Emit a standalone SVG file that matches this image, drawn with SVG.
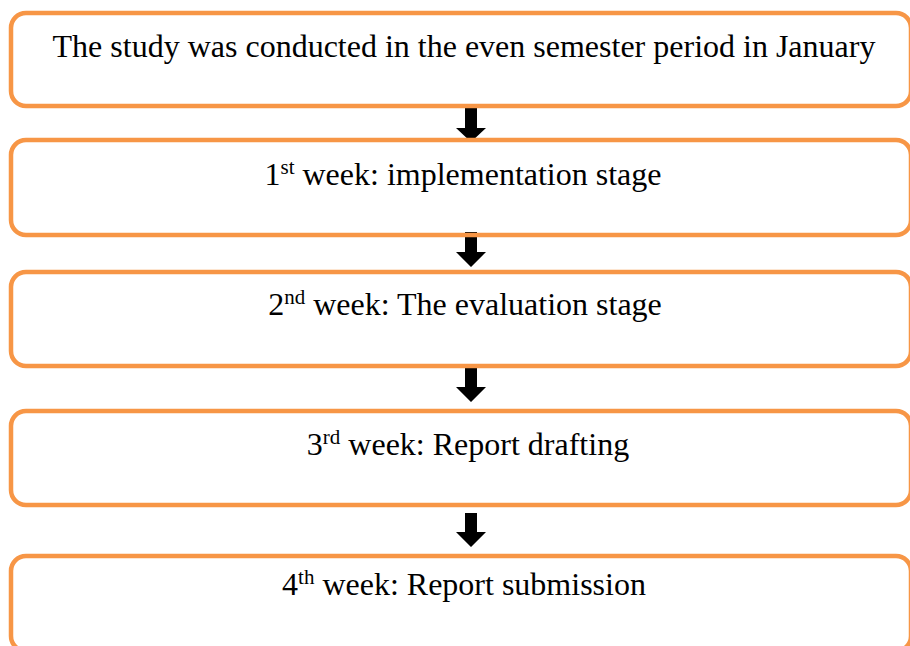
<svg xmlns="http://www.w3.org/2000/svg" width="910" height="646" viewBox="0 0 910 646">
<style>
.box{fill:none;stroke:#F79646;stroke-width:4.5}
.lbl{font-family:"Liberation Serif","Times New Roman",serif;font-size:32px;fill:#000;text-anchor:middle}
.sup{font-size:21px}
.arr{fill:#000}
</style>
<rect width="910" height="646" fill="#fff"/>
<g id="connectors">
<polygon class="arr" points="465,106 477,106 477,128 486,128 471,142 456,128 465,128"/>
<polygon class="arr" points="465,232 477,232 477,252 486,252 471,267 456,252 465,252"/>
<polygon class="arr" points="465,368 477,368 477,387 486,387 471,402 456,387 465,387"/>
<polygon class="arr" points="465,513 477,513 477,532 486,532 471,547 456,532 465,532"/>
</g>
<g id="node1">
<rect class="box" x="11" y="13" width="900" height="93" rx="15"/>
<text class="lbl" x="464" y="57">The study was conducted in the even semester period in January</text>
</g>
<g id="node2">
<rect class="box" x="11" y="140" width="900" height="95" rx="15"/>
<text class="lbl" x="463" y="185">1<tspan class="sup" dy="-11">st</tspan><tspan dy="11"> week: implementation stage</tspan></text>
</g>
<g id="node3">
<rect class="box" x="11" y="272" width="900" height="94" rx="15"/>
<text class="lbl" x="465" y="315">2<tspan class="sup" dy="-11">nd</tspan><tspan dy="11"> week: The evaluation stage</tspan></text>
</g>
<g id="node4">
<rect class="box" x="11" y="411" width="900" height="94" rx="15"/>
<text class="lbl" x="468" y="455">3<tspan class="sup" dy="-11">rd</tspan><tspan dy="11"> week: Report drafting</tspan></text>
</g>
<g id="node5">
<rect class="box" x="11" y="556" width="900" height="95" rx="15"/>
<text class="lbl" x="464" y="595">4<tspan class="sup" dy="-11">th</tspan><tspan dy="11"> week: Report submission</tspan></text>
</g>
</svg>
